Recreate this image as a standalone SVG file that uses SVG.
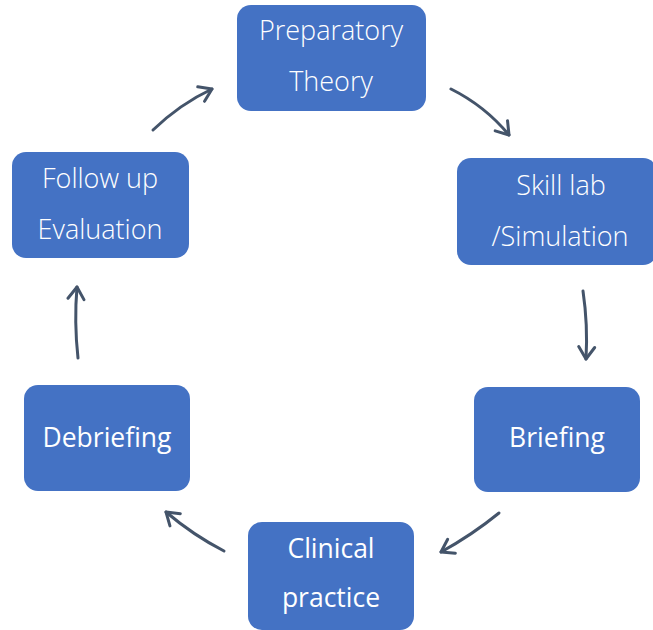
<svg xmlns="http://www.w3.org/2000/svg" width="653" height="630" viewBox="0 0 653 630">
<defs>
<style>
.box{fill:#4472C4;}
.t{fill:#ffffff;font-family:"Open Sans","Noto Sans","Liberation Sans",sans-serif;text-anchor:middle;}
.l{font-weight:300;font-size:27px;}
.b{font-weight:500;font-size:26.5px;}
.c{fill:none;stroke:#44546A;stroke-width:3;stroke-linecap:round;stroke-linejoin:round;}
</style>
<marker id="ah" viewBox="0 0 20 20" refX="16" refY="10" markerWidth="20" markerHeight="20" markerUnits="userSpaceOnUse" orient="auto">
<path d="M4,2 L16,10 L4,18" fill="none" stroke="#44546A" stroke-width="3" stroke-linecap="round" stroke-linejoin="round"/>
</marker>
</defs>
<rect width="653" height="630" fill="#ffffff"/>
<g id="connectors">
<path class="c" d="M153,130 Q180,104 212,89" marker-end="url(#ah)"/>
<path class="c" d="M451,89 Q485,106 509,135" marker-end="url(#ah)"/>
<path class="c" d="M583,291 Q588,325 586,359" marker-end="url(#ah)"/>
<path class="c" d="M499,513 Q472,535 441,552" marker-end="url(#ah)"/>
<path class="c" d="M224,551 Q193,535 166,512" marker-end="url(#ah)"/>
<path class="c" d="M78,358 Q74,322 77,287" marker-end="url(#ah)"/>
</g>
<g id="preparatory">
<rect class="box" x="237" y="5" width="189" height="106" rx="14"/>
<text class="t l" x="331" y="40">Preparatory</text>
<text class="t l" x="331" y="91">Theory</text>
</g>
<g id="skilllab">
<rect class="box" x="457" y="158" width="200" height="107" rx="14"/>
<text class="t l" x="561" y="195">Skill lab</text>
<text class="t l" x="560" y="246">/Simulation</text>
</g>
<g id="briefing">
<rect class="box" x="474" y="387" width="166" height="105" rx="14"/>
<text class="t b" x="557" y="447">Briefing</text>
</g>
<g id="clinical">
<rect class="box" x="248" y="522" width="166" height="108" rx="14"/>
<text class="t b" x="331" y="558">Clinical</text>
<text class="t b" x="331" y="607">practice</text>
</g>
<g id="debriefing">
<rect class="box" x="24" y="385" width="166" height="106" rx="14"/>
<text class="t b" x="107" y="447">Debriefing</text>
</g>
<g id="followup">
<rect class="box" x="12" y="152" width="177" height="106" rx="14"/>
<text class="t l" x="100" y="188">Follow up</text>
<text class="t l" x="100" y="239">Evaluation</text>
</g>
</svg>
